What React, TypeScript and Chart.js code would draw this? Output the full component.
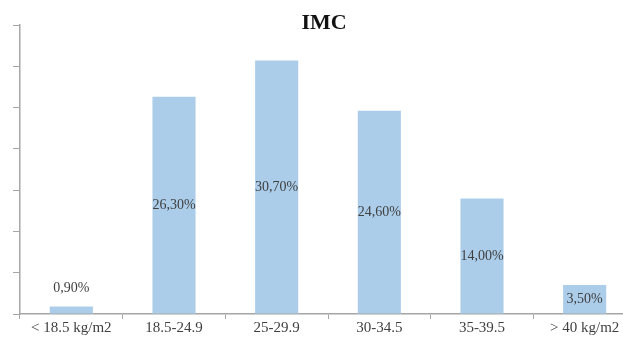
import React, { useEffect, useRef } from "react";
import { Chart, registerables } from "chart.js";

Chart.register(...registerables);

const categories = ["< 18.5 kg/m2", "18.5-24.9", "25-29.9", "30-34.5", "35-39.5", "> 40 kg/m2"];
const percentages = [0.9, 26.3, 30.7, 24.6, 14.0, 3.5];
const valueLabels = ["0,90%", "26,30%", "30,70%", "24,60%", "14,00%", "3,50%"];
const chartTitle = "IMC";

const SERIF = "'Liberation Serif', 'Times New Roman', serif";
const TEXT = "#3f3f3f";
const AXIS = "#a6a6a6";
const BAR = "#abcdea";

// Title sits over the top of the plot area, drawn by hand.
const titlePlugin = {
  id: "imcTitle",
  afterDraw(chart: any) {
    const ctx = chart.ctx;
    ctx.save();
    ctx.font = `bold 22px ${SERIF}`;
    ctx.fillStyle = "#111";
    ctx.textAlign = "center";
    ctx.textBaseline = "middle";
    ctx.fillText(chartTitle, 324, 23);
    ctx.restore();
  },
};

// Value labels: centred inside tall bars, above short ones.
const valueLabelPlugin = {
  id: "valueLabels",
  afterDatasetsDraw(chart: any) {
    const ctx = chart.ctx;
    const meta = chart.getDatasetMeta(0);
    ctx.save();
    ctx.font = `14px ${SERIF}`;
    ctx.fillStyle = TEXT;
    ctx.textAlign = "center";
    ctx.textBaseline = "middle";
    meta.data.forEach((bar: any, i: number) => {
      const h = bar.base - bar.y;
      const y = h > 20 ? (bar.y + bar.base) / 2 : bar.y - 18;
      ctx.fillText(valueLabels[i], bar.x, y);
    });
    ctx.restore();
  },
};

export default function App() {
  const ref = useRef<HTMLCanvasElement | null>(null);

  useEffect(() => {
    if (!ref.current) return;
    const chart = new Chart(ref.current, {
      type: "bar",
      data: {
        labels: categories,
        datasets: [
          {
            data: percentages,
            backgroundColor: BAR,
            borderWidth: 0,
            categoryPercentage: 0.42,
            barPercentage: 1,
          },
        ],
      },
      options: {
        animation: false,
        responsive: false,
        maintainAspectRatio: false,
        layout: { padding: { top: 25, right: 4, left: 0, bottom: 0 } },
        plugins: {
          legend: { display: false },
          title: { display: false },
          tooltip: { enabled: false },
        },
        scales: {
          x: {
            grid: {
              offset: true,
              drawOnChartArea: false,
              drawTicks: true,
              tickLength: 5,
              tickColor: AXIS,
            },
            border: { color: AXIS, width: 1.5 },
            ticks: {
              color: TEXT,
              font: { family: SERIF, size: 15 },
              padding: 0,
              maxRotation: 0,
              autoSkip: false,
            },
            afterFit(scale: any) {
              scale.height = 24;
            },
          },
          y: {
            min: 0,
            max: 35,
            ticks: { stepSize: 5, display: false },
            grid: {
              drawOnChartArea: false,
              drawTicks: true,
              tickLength: 7,
              tickColor: AXIS,
            },
            border: { color: AXIS, width: 1.5 },
            afterFit(scale: any) {
              scale.width = 20;
            },
          },
        },
      },
      plugins: [valueLabelPlugin, titlePlugin],
    });
    return () => chart.destroy();
  }, []);

  return (
    <div
      style={{
        position: "fixed",
        left: 0,
        top: 0,
        width: 623,
        height: 338,
        overflow: "hidden",
        background: "#fff",
      }}
    >
      <canvas ref={ref} width={640} height={338} style={{ display: "block" }} />
    </div>
  );
}
